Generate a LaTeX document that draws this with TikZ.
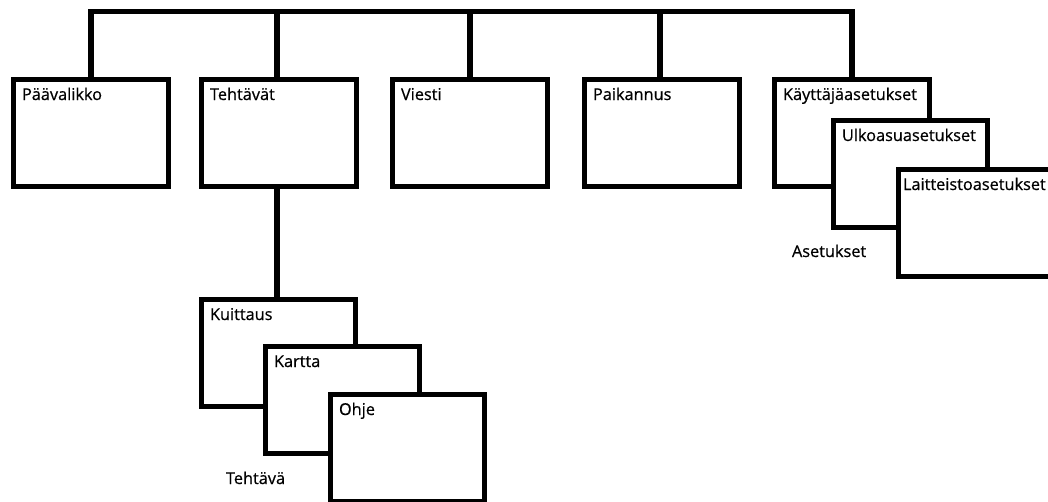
\documentclass[tikz,border=0pt]{standalone}
\usepackage{fontspec}
\setmainfont{Open Sans}[FakeBold=0.6]
\newfontfamily\lblfont{Open Sans}[FakeBold=0.6]
\begin{document}
\begin{tikzpicture}[x=1pt,y=-1pt,
  box/.style={draw=black,line width=5.5pt,fill=white,rectangle,inner sep=0pt,outer sep=0pt,
    minimum width=155pt,minimum height=107pt,anchor=north west},
  conn/.style={draw=black,line width=5.5pt,line join=miter},
  lbl/.style={anchor=base west,inner sep=0pt,outer sep=0pt,font=\lblfont\fontsize{16.3}{19}\selectfont,text=black}]
\clip (0,0) rectangle (1048,501);
\fill[white] (0,0) rectangle (1048,501);
% boxes
\node[box] (pv) at (13.5,79.5) {};
\node[box] (te) at (201.5,79.5) {};
\node[box] (vi) at (392.5,79.5) {};
\node[box] (pa) at (584.5,79.5) {};
\coordinate (bus) at (0,11.5);
\coordinate (kaTop) at (852,79.5);
% connectors
\draw[conn] (pv.north) -- (pv.north |- bus) -- (kaTop |- bus) -- (kaTop);
\draw[conn] (277,79.5) coordinate (teTop) -- (teTop |- bus);
\draw[conn] (vi.north) -- (vi.north |- bus);
\draw[conn] (660,79.5) coordinate (paTop) -- (paTop |- bus);
% settings stack
\node[box] (ka) at (774.5,79.5) {};
\node[box,minimum width=154pt] (ul) at (833.5,120.5) {};
\node[box,minimum width=160pt] (la) at (898.5,169.5) {};
% task stack
\node[box,minimum width=154pt] (ku) at (201.5,299.5) {};
\draw[conn] (277,186.5) coordinate (teBot) -- (teBot |- ku.north);
\node[box,minimum width=154pt] (kr) at (265.5,346.5) {};
\node[box,minimum width=154pt] (oh) at (330.5,394.5) {};
% labels
\node[lbl] at ([xshift=8.5pt,yshift=-20.5pt]pv.north west) {Päävalikko};
\node[lbl] at ([xshift=8.5pt,yshift=-20.5pt]te.north west) {Tehtävät};
\node[lbl] at ([xshift=8.5pt,yshift=-20.5pt]vi.north west) {Viesti};
\node[lbl] at ([xshift=8.5pt,yshift=-20.5pt]pa.north west) {Paikannus};
\node[lbl] at ([xshift=8.5pt,yshift=-20.5pt]ka.north west) {Käyttäjäasetukset};
\node[lbl] at ([xshift=8.5pt,yshift=-20.5pt]ul.north west) {Ulkoasuasetukset};
\node[lbl] at ([xshift=4.5pt,yshift=-20.5pt]la.north west) {Laitteistoasetukset};
\node[lbl] at ([xshift=8.5pt,yshift=-20.5pt]ku.north west) {Kuittaus};
\node[lbl] at ([xshift=8.5pt,yshift=-20.5pt]kr.north west) {Kartta};
\node[lbl] at ([xshift=8.5pt,yshift=-20.5pt]oh.north west) {Ohje};
\node[lbl] (aset) at (792,257) {Asetukset};
\node[lbl] (teht) at (226,484) {Tehtävä};
\end{tikzpicture}
\end{document}
